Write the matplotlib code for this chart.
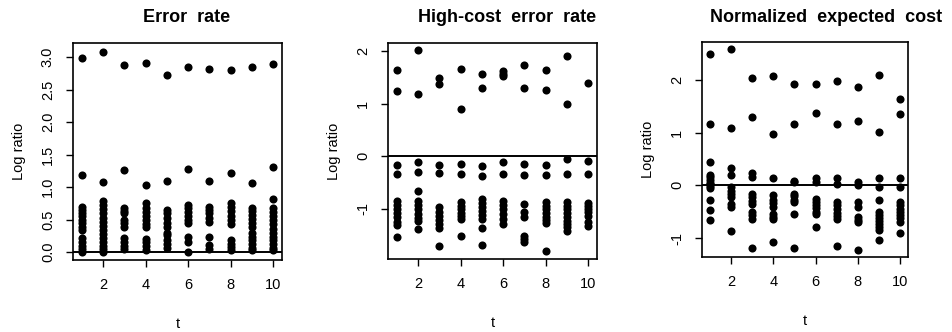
import matplotlib
matplotlib.use("Agg")
import matplotlib.pyplot as plt

plt.rcParams['font.family'] = ['Liberation Sans', 'DejaVu Sans']

t = list(range(1, 11))

# log ratio per t, one list of values for each t
error_rate = [
    [2.98, 1.18, 0.70, 0.65, 0.60, 0.55, 0.50, 0.45, 0.38, 0.34, 0.22, 0.16, 0.10, 0.05, 0.01],
    [3.07, 1.08, 0.78, 0.73, 0.66, 0.60, 0.53, 0.46, 0.40, 0.34, 0.28, 0.22, 0.15, 0.10, 0.05, 0.01],
    [2.88, 1.27, 0.68, 0.64, 0.60, 0.50, 0.45, 0.38, 0.22, 0.16, 0.10, 0.05],
    [2.90, 1.04, 0.75, 0.68, 0.62, 0.56, 0.50, 0.44, 0.39, 0.21, 0.15, 0.09, 0.04],
    [2.73, 1.10, 0.65, 0.60, 0.52, 0.45, 0.38, 0.30, 0.26, 0.18, 0.12, 0.06],
    [2.84, 1.28, 0.73, 0.68, 0.62, 0.56, 0.50, 0.45, 0.23, 0.15, 0.01],
    [2.82, 1.10, 0.70, 0.65, 0.60, 0.53, 0.46, 0.24, 0.11, 0.05],
    [2.80, 1.22, 0.75, 0.70, 0.63, 0.56, 0.49, 0.43, 0.19, 0.13, 0.08, 0.04],
    [2.84, 1.07, 0.68, 0.63, 0.57, 0.51, 0.45, 0.38, 0.30, 0.24, 0.18, 0.12, 0.07, 0.03],
    [2.89, 1.31, 0.82, 0.68, 0.62, 0.56, 0.50, 0.43, 0.36, 0.30, 0.24, 0.18, 0.12, 0.07, 0.03],
]

high_cost = [
    [1.64, 1.24, -0.16, -0.33, -0.84, -0.92, -1.00, -1.08, -1.16, -1.24, -1.31, -1.54],
    [2.01, 1.18, -0.10, -0.30, -0.65, -0.84, -0.92, -1.00, -1.10, -1.17, -1.23, -1.38],
    [1.48, 1.38, -0.16, -0.32, -0.97, -1.05, -1.13, -1.21, -1.29, -1.36, -1.70],
    [1.66, 0.89, -0.14, -0.34, -0.87, -0.94, -1.01, -1.08, -1.14, -1.20, -1.51],
    [1.56, 1.29, -0.18, -0.38, -0.81, -0.88, -0.96, -1.04, -1.12, -1.19, -1.37, -1.69],
    [1.62, 1.57, 1.52, -0.11, -0.33, -0.84, -0.92, -1.01, -1.10, -1.20, -1.29],
    [1.73, 1.29, -0.14, -0.36, -0.90, -1.06, -1.16, -1.51, -1.57, -1.62],
    [1.64, 1.26, -0.17, -0.36, -0.87, -0.94, -1.01, -1.08, -1.15, -1.21, -1.27, -1.80],
    [1.91, 0.99, -0.06, -0.34, -0.87, -0.94, -1.01, -1.08, -1.15, -1.22, -1.29, -1.35, -1.41],
    [1.40, -0.09, -0.33, -0.89, -0.95, -1.00, -1.06, -1.13, -1.25, -1.32],
]

expected_cost = [
    [2.50, 1.17, 0.44, 0.19, 0.15, 0.10, 0.05, 0.02, -0.02, -0.06, -0.28, -0.47, -0.66],
    [2.58, 1.09, 0.32, 0.19, -0.03, -0.10, -0.16, -0.22, -0.36, -0.41, -0.87],
    [2.04, 1.30, 0.23, 0.16, -0.16, -0.22, -0.29, -0.35, -0.50, -0.57, -0.63, -1.18],
    [2.07, 0.97, 0.13, -0.19, -0.28, -0.34, -0.41, -0.54, -0.60, -0.63, -1.08],
    [1.92, 1.17, 0.09, 0.06, -0.16, -0.21, -0.27, -0.32, -0.54, -1.18],
    [1.92, 1.37, 0.13, 0.06, -0.25, -0.31, -0.37, -0.43, -0.50, -0.54, -0.80],
    [1.98, 1.17, 0.13, 0.03, -0.32, -0.38, -0.44, -0.52, -0.58, -0.63, -1.16],
    [1.87, 1.23, 0.06, 0.00, -0.32, -0.41, -0.60, -0.65, -0.70, -1.22],
    [2.10, 1.01, 0.13, -0.03, -0.28, -0.50, -0.56, -0.62, -0.68, -0.74, -0.80, -0.85, -1.03],
    [1.63, 1.35, 0.13, -0.03, -0.32, -0.38, -0.44, -0.50, -0.56, -0.62, -0.70, -0.90],
]

titles = ["Error  rate", "High-cost  error  rate", "Normalized  expected  cost"]
panels = [error_rate, high_cost, expected_cost]
ylims = [(-0.12, 3.215), (-1.95, 2.15), (-1.36, 2.72)]
yticks = [[0.0, 0.5, 1.0, 1.5, 2.0, 2.5, 3.0], [-1, 0, 1, 2], [-1, 0, 1, 2]]
ytick_labels = [["0.0", "0.5", "1.0", "1.5", "2.0", "2.5", "3.0"],
                ["-1", "0", "1", "2"], ["-1", "0", "1", "2"]]

W, H = 953, 332
# axes boxes in pixels: left, top, right, bottom
boxes = [(73, 43, 282, 260), (388, 43, 597, 259), (702, 42, 908, 257)]
title_x = [187, 507, 826]

fig = plt.figure(figsize=(W / 100, H / 100), dpi=100)

for i, data in enumerate(panels):
    l, tp, r, b = boxes[i]
    ax = fig.add_axes([l / W, 1 - b / H, (r - l) / W, (b - tp) / H])
    xs = []
    ys = []
    for tt, vals in zip(t, data):
        xs += [tt] * len(vals)
        ys += vals
    ax.scatter(xs, ys, s=34, color="black", linewidths=0, zorder=3)
    ax.axhline(0, color="black", lw=1.4, zorder=2)
    ax.set_xlim(0.6, 10.4)
    ax.set_ylim(*ylims[i])
    ax.set_xticks([2, 4, 6, 8, 10])
    ax.set_yticks(yticks[i])
    ax.set_yticklabels(ytick_labels[i], rotation=90, va="center")
    ax.tick_params(direction="out", length=5, width=1, labelsize=10.5, pad=8)
    for sp in ax.spines.values():
        sp.set_linewidth(1.2)
    ax.set_xlabel("t", fontsize=10.5, labelpad=18)
    ax.set_ylabel("Log ratio", fontsize=10.5, labelpad=11)
    fig.text(title_x[i] / W, 1 - 17 / H, titles[i], ha="center", va="center",
             fontsize=13, fontweight="bold")

fig.savefig("out.png", dpi=100)
